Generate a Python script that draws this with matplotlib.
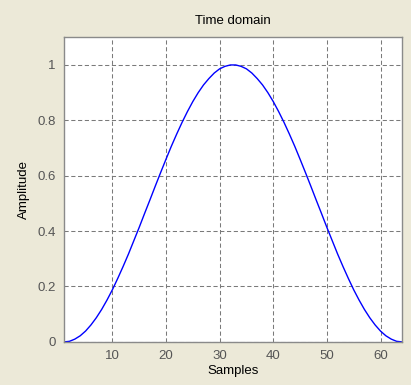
import matplotlib
matplotlib.use("Agg")
import matplotlib.pyplot as plt

# sample index and window amplitude
samples = list(range(1, 65))
amplitude = [
    0.000, 0.002, 0.010, 0.022, 0.039, 0.061, 0.087, 0.117,
    0.151, 0.188, 0.229, 0.272, 0.317, 0.365, 0.413, 0.463,
    0.512, 0.562, 0.611, 0.659, 0.706, 0.750, 0.792, 0.831,
    0.867, 0.899, 0.927, 0.950, 0.970, 0.985, 0.994, 0.999,
    0.999, 0.994, 0.985, 0.970, 0.950, 0.927, 0.899, 0.867,
    0.831, 0.792, 0.750, 0.706, 0.659, 0.611, 0.562, 0.512,
    0.463, 0.413, 0.365, 0.317, 0.272, 0.229, 0.188, 0.151,
    0.117, 0.087, 0.061, 0.039, 0.022, 0.010, 0.002, 0.000,
]
xticks = [10, 20, 30, 40, 50, 60]
yticks = [0, 0.2, 0.4, 0.6, 0.8, 1]
yticklabels = ["0", "0.2", "0.4", "0.6", "0.8", "1"]

plt.rcParams["font.family"] = ["Liberation Sans", "DejaVu Sans"]
bg = "#ECE9D8"
fs = 9.5
fig = plt.figure(figsize=(4.11, 3.85), dpi=100, facecolor=bg)
ax = fig.add_axes([0.156, 0.112, 0.822, 0.792])
ax.set_facecolor("white")

ax.plot(samples, amplitude, color="#0000FF", lw=1.0)
ax.set_xlim(1, 64)
ax.set_ylim(0, 1.1)
ax.set_xticks(xticks)
ax.set_yticks(yticks)
ax.set_yticklabels(yticklabels)
ax.grid(True, color="#7a7a7a", ls=(0, (4, 2.5)), lw=0.75)
ax.tick_params(direction="in", length=0, labelsize=fs, labelcolor="#555555", pad=6)
for s in ax.spines.values():
    s.set_color("#8a8a8a")
    s.set_linewidth(1.0)

ax.set_title("Time domain", fontsize=fs, pad=9)
ax.set_xlabel("Samples", fontsize=fs, labelpad=2)
ax.set_ylabel("Amplitude", fontsize=fs, labelpad=5)

fig.savefig("out.png", dpi=100, facecolor=bg)
